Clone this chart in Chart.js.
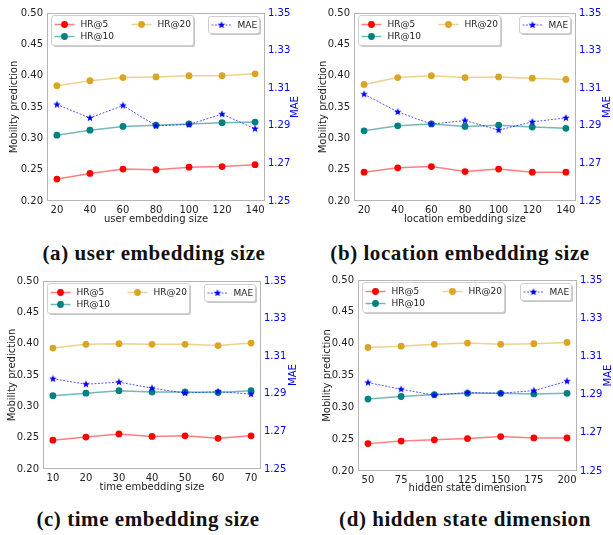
<!DOCTYPE html>
<html><head><meta charset="utf-8">
<script src="https://cdn.jsdelivr.net/npm/chart.js@4.4.1/dist/chart.umd.min.js"></script>
<style>
html,body{margin:0;padding:0;background:#fff;}
body{width:613px;height:535px;position:relative;overflow:hidden;}
canvas{position:absolute;}
.cap{position:absolute;font-family:"Liberation Serif",serif;font-weight:bold;font-size:21px;line-height:21px;letter-spacing:0.55px;white-space:nowrap;color:#111;transform:translate(-50%,-50%);}
</style></head><body>
<script>
// ---------- data ----------
const xA=[20,40,60,80,100,120,140];
const hr5A=[0.235,0.244,0.251,0.250,0.254,0.255,0.258];
const hr10A=[0.305,0.313,0.319,0.321,0.323,0.325,0.326];
const hr20A=[0.384,0.392,0.397,0.398,0.400,0.400,0.403];
const maeA=[1.3013,1.2942,1.3008,1.2900,1.2907,1.2962,1.2884];

const xB=[20,40,60,80,100,120,140];
const hr5B=[0.246,0.253,0.255,0.247,0.251,0.246,0.246];
const hr10B=[0.312,0.320,0.323,0.319,0.321,0.318,0.316];
const hr20B=[0.386,0.397,0.400,0.397,0.398,0.396,0.394];
const maeB=[1.3068,1.2974,1.2909,1.2928,1.2877,1.2921,1.2942];

const xC=[10,20,30,40,50,60,70];
const hr5C=[0.246,0.251,0.256,0.252,0.253,0.249,0.253];
const hr10C=[0.317,0.321,0.325,0.323,0.323,0.322,0.325];
const hr20C=[0.393,0.399,0.400,0.399,0.399,0.397,0.401];
const maeC=[1.2980,1.2951,1.2962,1.2930,1.2904,1.2912,1.2898];

const xD=[50,75,100,125,150,175,200];
const hr5D=[0.243,0.247,0.249,0.251,0.254,0.252,0.252];
const hr10D=[0.313,0.317,0.320,0.322,0.322,0.321,0.322];
const hr20D=[0.394,0.396,0.399,0.401,0.399,0.400,0.402];
const maeD=[1.2963,1.2928,1.2897,1.2911,1.2907,1.2921,1.2970];

const leftTicks=[0.20,0.25,0.30,0.35,0.40,0.45,0.50];
const rightTicks=[1.25,1.27,1.29,1.31,1.33,1.35];
const seriesNames=['HR@5','HR@10','HR@20','MAE'];
const leftTitle='Mobility prediction';
const rightTitle='MAE';
const xTitles=['user embedding size','location embedding size','time embedding size','hidden state dimension'];
const captions=['(a) user embedding size','(b) location embedding size','(c) time embedding size','(d) hidden state dimension'];

// ---------- styles / layout ----------
const FONT='"DejaVu Sans", sans-serif';
const C5='#ff0000', C10='#008080', C20='#daa520', CM='#0000ff';
const L5='rgba(255,0,0,0.5)', L10='rgba(0,128,128,0.55)', L20='rgba(218,165,32,0.5)', LM='rgba(0,0,255,0.65)';

const panels=[
 {x:xA,h5:hr5A,h10:hr10A,h20:hr20A,m:maeA,x0:0,y0:0,L:47,R:265,T:13,B:201,yT:14,xT:219,mT:295,xmin:14,xmax:146,cx:154,cy:253},
 {x:xB,h5:hr5B,h10:hr10B,h20:hr20B,m:maeB,x0:305,y0:0,L:354,R:576,T:13,B:201,yT:323,xT:219,mT:607,xmin:14,xmax:146,cx:460,cy:253},
 {x:xC,h5:hr5C,h10:hr10C,h20:hr20C,m:maeC,x0:0,y0:265,L:43,R:261,T:281,B:469,yT:12,xT:487,mT:293,xmin:7,xmax:73,cx:148,cy:519},
 {x:xD,h5:hr5D,h10:hr10D,h20:hr20D,m:maeD,x0:305,y0:265,L:358,R:577,T:280,B:471,yT:327,xT:488,mT:608,xmin:42.5,xmax:207.5,cx:465,cy:519}
];

function makeStar(r,color){
  const c=document.createElement('canvas');const s=Math.ceil(2*r+2);c.width=s;c.height=s;
  const g=c.getContext('2d');g.fillStyle=color;g.beginPath();
  for(let i=0;i<10;i++){const rad=i%2?r*0.42:r;const a=-Math.PI/2+i*Math.PI/5;
    const px=s/2+rad*Math.cos(a),py=s/2+rad*Math.sin(a);i?g.lineTo(px,py):g.moveTo(px,py);}
  g.closePath();g.fill();return c;
}
const STAR=makeStar(4,CM);

function rr(ctx,x,y,w,h,r){ctx.beginPath();ctx.moveTo(x+r,y);ctx.lineTo(x+w-r,y);ctx.arcTo(x+w,y,x+w,y+r,r);
  ctx.lineTo(x+w,y+h-r);ctx.arcTo(x+w,y+h,x+w-r,y+h,r);ctx.lineTo(x+r,y+h);ctx.arcTo(x,y+h,x,y+h-r,r);
  ctx.lineTo(x,y+r);ctx.arcTo(x,y,x+r,y,r);ctx.closePath();}

const framePlugin={id:'frame',beforeDatasetsDraw(chart){
  const a=chart.chartArea,ctx=chart.ctx;ctx.save();ctx.strokeStyle='#b5b5b5';ctx.lineWidth=1;
  ctx.strokeRect(Math.round(a.left)+0.5,Math.round(a.top)+0.5,Math.round(a.right-a.left)-1,Math.round(a.bottom-a.top)-1);ctx.restore();
}};

const legendPlugin={id:'mlLegend',afterDraw(chart){
  const a=chart.chartArea,ctx=chart.ctx,p=chart.options.plugins.mlLegend;
  ctx.save();
  // MAE axis title (reads bottom to top like the original)
  ctx.font='10px '+FONT;ctx.fillStyle=CM;ctx.textAlign='center';ctx.textBaseline='middle';
  ctx.translate(p.mT,(a.top+a.bottom)/2);ctx.rotate(-Math.PI/2);ctx.fillText(rightTitle,0,0);
  ctx.setTransform(1,0,0,1,0,0);
  function box(x,y,w,h){
    ctx.fillStyle='rgba(0,0,0,0.22)';rr(ctx,x+1.5,y+1.5,w,h,2.5);ctx.fill();
    ctx.fillStyle='#fff';rr(ctx,x,y,w,h,2.5);ctx.fill();ctx.strokeStyle='#cfcfcf';ctx.lineWidth=1;ctx.stroke();
  }
  function entry(x,y,lc,mc,label,star){
    ctx.strokeStyle=lc;ctx.lineWidth=star?1:1.5;ctx.setLineDash(star?[2,1.5]:[]);
    ctx.beginPath();ctx.moveTo(x,y);ctx.lineTo(x+20,y);ctx.stroke();ctx.setLineDash([]);
    if(star){ctx.drawImage(STAR,x+10-STAR.width/2,y-STAR.height/2);}
    else{ctx.fillStyle=mc;ctx.beginPath();ctx.arc(x+10,y,3.4,0,Math.PI*2);ctx.fill();}
    ctx.fillStyle='#222';ctx.font='9px '+FONT;ctx.textAlign='left';ctx.textBaseline='middle';
    ctx.fillText(label,x+26,y+0.5);
  }
  const bx=Math.round(a.left)+4.5,by=Math.round(a.top)+2.5;
  box(bx,by,142,30);
  entry(bx+3,by+9,L5,C5,seriesNames[0],false);
  entry(bx+80,by+9,L20,C20,seriesNames[2],false);
  entry(bx+3,by+21,L10,C10,seriesNames[1],false);
  const mx=Math.round(a.right)-56.5,my=Math.round(a.top)+3.5;
  box(mx,my,51,17);
  entry(mx+3,my+8.5,LM,CM,seriesNames[3],true);
  ctx.restore();
}};

panels.forEach((P,i)=>{
  const x1=Math.min(613,P.mT+8), y1=P.xT+6;
  const W=x1-P.x0, H=y1-P.y0;
  const cv=document.createElement('canvas');cv.width=W;cv.height=H;
  cv.style.left=P.x0+'px';cv.style.top=P.y0+'px';cv.style.width=W+'px';cv.style.height=H+'px';
  document.body.appendChild(cv);
  const cap=document.createElement('div');cap.className='cap';cap.textContent=captions[i];
  cap.style.left=P.cx+'px';cap.style.top=P.cy+'px';document.body.appendChild(cap);
  const pts=(ys)=>P.x.map((v,k)=>({x:v,y:ys[k]}));
  const line=(label,ys,lc,mc,ord)=>({label,data:pts(ys),yAxisID:'y',borderColor:lc,backgroundColor:mc,
     pointBackgroundColor:mc,pointBorderWidth:0,pointRadius:3.4,borderWidth:1.5,tension:0,order:ord});
  new Chart(cv,{type:'line',
    data:{datasets:[
      {label:seriesNames[3],data:pts(P.m),yAxisID:'y1',borderColor:LM,backgroundColor:CM,borderWidth:1,
       borderDash:[2,1.5],pointStyle:STAR,pointRadius:4,tension:0,order:0},
      line(seriesNames[0],P.h5,L5,C5,1),
      line(seriesNames[1],P.h10,L10,C10,2),
      line(seriesNames[2],P.h20,L20,C20,3)
    ]},
    options:{responsive:false,animation:false,devicePixelRatio:1,
      layout:{padding:{top:P.T-P.y0,left:0,right:0,bottom:0}},
      plugins:{legend:{display:false},tooltip:{enabled:false},mlLegend:{mT:P.mT-P.x0}},
      scales:{
        x:{type:'linear',min:P.xmin,max:P.xmax,grid:{display:false,drawTicks:false},border:{display:false},
           afterBuildTicks:s=>{s.ticks=P.x.map(v=>({value:v}));},
           afterFit:s=>{s.height=y1-P.B;},
           ticks:{font:{family:FONT,size:10},color:'#222',padding:3,maxRotation:0,autoSkip:false,callback:v=>String(v)},
           title:{display:true,text:xTitles[i],font:{family:FONT,size:10},color:'#222',padding:{top:0,bottom:0}}},
        y:{position:'left',min:0.2,max:0.5,grid:{display:false,drawTicks:false},border:{display:false},
           afterBuildTicks:s=>{s.ticks=leftTicks.map(v=>({value:v}));},
           afterFit:s=>{s.width=P.L-P.x0;},
           ticks:{font:{family:FONT,size:10},color:'#222',padding:4,callback:v=>v.toFixed(2)},
           title:{display:true,text:leftTitle,font:{family:FONT,size:10},color:'#222',padding:{top:P.yT-P.x0-6,bottom:0}}},
        y1:{position:'right',min:1.25,max:1.35,grid:{display:false,drawTicks:false},border:{display:false},
           afterBuildTicks:s=>{s.ticks=rightTicks.map(v=>({value:v}));},
           afterFit:s=>{s.width=x1-P.R;},
           ticks:{font:{family:FONT,size:10},color:CM,padding:3,callback:v=>v.toFixed(2)}}
      }},
    plugins:[framePlugin,legendPlugin]
  });
});
</script>
</body></html>
